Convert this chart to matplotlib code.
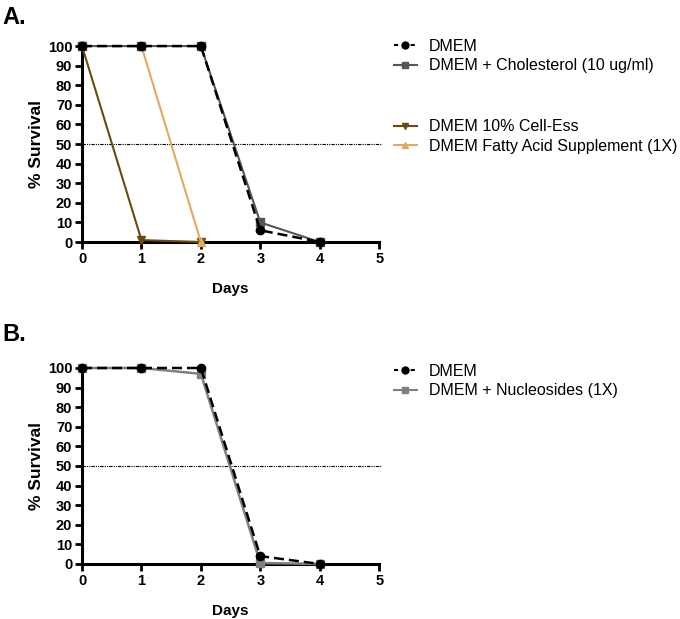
import matplotlib.pyplot as plt
from matplotlib.lines import Line2D

plt.rcParams['font.family'] = ['Liberation Sans', 'DejaVu Sans']

# Panel A data
days_a = [0, 1, 2, 3, 4]
dmem_a = [100, 100, 100, 6, 0]
chol_a = [100, 100, 100, 10, 0]
days_short = [0, 1, 2]
cell_ess = [100, 1, 0]
fatty_acid = [100, 100, 0]

# Panel B data
days_b = [0, 1, 2, 3, 4]
dmem_b = [100, 100, 100, 4, 0]
nucleosides = [100, 100, 97, 0.5, 0]

x_ticks = [0, 1, 2, 3, 4, 5]
y_ticks = list(range(0, 101, 10))

fig = plt.figure(figsize=(6.8, 6.19), dpi=100)
ax_a = fig.add_axes([0.1206, 0.609, 0.437, 0.3166])
ax_b = fig.add_axes([0.1206, 0.0889, 0.437, 0.3166])

leg_kw = dict(loc='upper left', frameon=False, fontsize=11.5,
              handlelength=1.45, handletextpad=0.75, labelspacing=0.28)


def style_axis(ax):
    ax.set_xlim(0, 5)
    ax.set_ylim(0, 100)
    ax.set_xticks(x_ticks)
    ax.set_yticks(y_ticks)
    for s in ['top', 'right']:
        ax.spines[s].set_visible(False)
    for s in ['left', 'bottom']:
        ax.spines[s].set_linewidth(2.2)
    ax.tick_params(width=2, length=5, labelsize=10.5, pad=2)
    for lab in ax.get_xticklabels() + ax.get_yticklabels():
        lab.set_fontweight('bold')
    ax.set_xlabel('Days', fontsize=11, fontweight='bold', labelpad=12)
    ax.set_ylabel('% Survival', fontsize=12.5, fontweight='bold', labelpad=3)
    ax.axhline(50, xmin=0, xmax=1.005, color='black', linewidth=0.8,
               linestyle=(0, (3, 1, 1, 1, 1, 1)), clip_on=False, zorder=1)


# ---- Panel A ----
ax = ax_a
style_axis(ax)
ax.plot(days_short, cell_ess, color='#6b4a12', marker='v', markersize=6,
        linewidth=1.5, clip_on=False, zorder=3)
ax.plot(days_short, fatty_acid, color='#e0aa63', marker='^', markersize=6,
        linewidth=1.5, clip_on=False, zorder=3)
ax.plot(days_a, chol_a, color='#555555', marker='s', markersize=6,
        linewidth=1.5, clip_on=False, zorder=4)
ax.plot(days_a, dmem_a, color='black', marker='o', markersize=6,
        linewidth=1.8, linestyle=(0, (4, 2)), clip_on=False, zorder=5)

leg1 = ax.legend(
    [Line2D([], [], color='black', marker='o', markersize=5, linestyle=(0, (2, 2))),
     Line2D([], [], color='#555555', marker='s', markersize=5)],
    ['DMEM', 'DMEM + Cholesterol (10 ug/ml)'],
    bbox_to_anchor=(1.0, 1.11), **leg_kw)
ax.add_artist(leg1)
ax.legend(
    [Line2D([], [], color='#6b4a12', marker='v', markersize=5),
     Line2D([], [], color='#e0aa63', marker='^', markersize=5)],
    ['DMEM 10% Cell-Ess', 'DMEM Fatty Acid Supplement (1X)'],
    bbox_to_anchor=(1.0, 0.70), **leg_kw)

# ---- Panel B ----
ax = ax_b
style_axis(ax)
ax.plot(days_b, nucleosides, color='#808080', marker='s', markersize=6,
        linewidth=1.8, clip_on=False, zorder=4)
ax.plot(days_b, dmem_b, color='black', marker='o', markersize=6,
        linewidth=1.8, linestyle=(0, (4, 2)), clip_on=False, zorder=5)
ax.legend(
    [Line2D([], [], color='black', marker='o', markersize=5, linestyle=(0, (2, 2))),
     Line2D([], [], color='#808080', marker='s', markersize=5)],
    ['DMEM', 'DMEM + Nucleosides (1X)'],
    bbox_to_anchor=(1.0, 1.095), **leg_kw)

fig.text(0.003, 0.99, 'A.', fontsize=17, fontweight='bold', va='top')
fig.text(0.003, 0.478, 'B.', fontsize=17, fontweight='bold', va='top')

fig.savefig('out.png', dpi=100)
